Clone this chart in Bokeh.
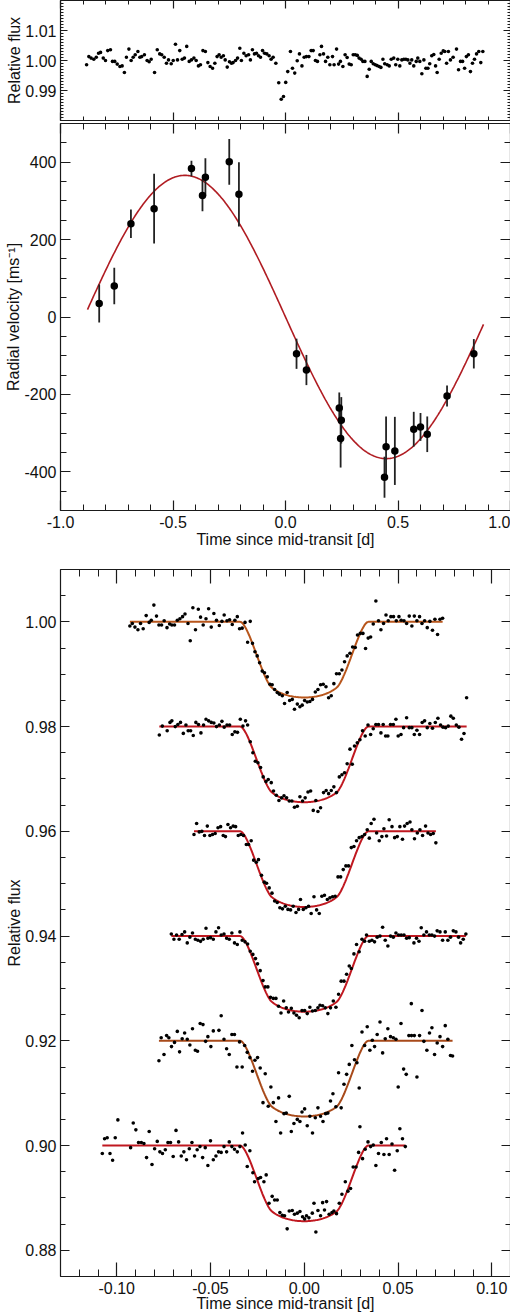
import numpy as np
from bokeh.plotting import figure
from bokeh.layouts import column
from bokeh.models import FixedTicker, LinearAxis, Range1d
from bokeh.embed import file_html
from bokeh.resources import INLINE

FONT = "Liberation Sans"
AX = "#1a1a1a"

# ---------------- top panel: photometry over the orbit ----------------
top_t = [-0.884,-0.874,-0.864,-0.852,-0.841,-0.831,-0.822,-0.810,-0.800,-0.790,
-0.778,-0.769,-0.759,-0.748,-0.736,-0.726,-0.716,-0.707,-0.696,-0.686,
-0.677,-0.668,-0.656,-0.647,-0.639,-0.627,-0.615,-0.606,-0.597,-0.582,
-0.570,-0.559,-0.550,-0.539,-0.529,-0.520,-0.508,-0.499,-0.489,-0.480,
-0.470,-0.459,-0.449,-0.439,-0.428,-0.418,-0.407,-0.397,-0.387,-0.378,
-0.367,-0.356,-0.345,-0.335,-0.324,-0.314,-0.304,-0.295,-0.286,-0.276,
-0.268,-0.259,-0.249,-0.240,-0.233,-0.222,-0.213,-0.203,-0.196,-0.185,
-0.175,-0.164,-0.156,-0.147,-0.138,-0.129,-0.120,-0.111,-0.102,-0.093,
-0.083,-0.073,-0.064,-0.055,-0.043,-0.030,-0.019,-0.009,0.001,0.010,
0.022,0.031,0.041,0.052,0.062,0.073,0.083,0.093,0.104,0.114,
0.123,0.133,0.142,0.153,0.160,0.169,0.178,0.188,0.197,0.209,
0.216,0.227,0.236,0.244,0.255,0.265,0.274,0.283,0.292,0.301,
0.310,0.319,0.327,0.336,0.344,0.353,0.363,0.372,0.381,0.390,
0.399,0.407,0.416,0.424,0.433,0.441,0.452,0.461,0.470,0.481,
0.490,0.499,0.508,0.517,0.526,0.535,0.544,0.553,0.561,0.570,
0.581,0.588,0.597,0.606,0.615,0.624,0.633,0.641,0.650,0.659,
0.667,0.674,0.683,0.692,0.701,0.708,0.716,0.724,0.733,0.745,
0.760,0.769,0.778,0.787,0.796,0.804,0.813,0.822,0.831,0.840,
0.849,0.859,0.868,0.877]
top_flux = [0.9986,1.0013,1.0008,1.0004,1.0011,1.0024,1.0027,1.0008,1.0000,1.0033,
1.0036,0.9997,0.9997,0.9988,0.9980,0.9982,0.9960,1.0011,1.0038,1.0000,
1.0011,1.0019,1.0030,1.0011,1.0013,1.0019,1.0000,0.9996,1.0004,0.9960,
1.0036,1.0022,1.0019,1.0011,0.9991,1.0002,0.9989,1.0000,1.0054,1.0002,
1.0033,1.0004,1.0008,1.0047,0.9997,1.0002,1.0008,1.0000,0.9982,0.9986,
1.0033,1.0030,0.9993,0.9980,0.9974,0.9991,1.0013,1.0019,1.0011,1.0016,
1.0002,0.9978,0.9996,0.9991,0.9993,1.0000,1.0008,1.0041,1.0000,1.0024,
1.0016,1.0019,1.0002,1.0036,1.0022,1.0024,1.0016,1.0011,1.0033,1.0024,
1.0022,1.0016,1.0004,1.0011,0.9991,0.9926,0.9871,0.9880,0.9927,0.9963,
1.0030,0.9974,0.9958,0.9999,1.0022,0.9982,1.0011,1.0013,1.0013,1.0033,
1.0033,1.0000,0.9997,1.0019,1.0047,1.0022,0.9997,1.0011,0.9986,1.0013,
0.9986,1.0038,0.9988,0.9997,0.9980,1.0019,1.0010,0.9988,0.9986,1.0019,
1.0019,1.0017,1.0008,1.0004,0.9997,0.9997,0.9947,0.9971,0.9997,0.9989,
0.9986,0.9983,0.9980,0.9977,1.0004,0.9989,0.9986,0.9982,1.0004,1.0008,
0.9986,1.0004,0.9982,1.0002,1.0004,1.0004,1.0002,0.9991,1.0002,0.9982,
0.9997,1.0008,0.9997,0.9956,1.0002,0.9974,0.9974,0.9989,1.0016,1.0020,
0.9982,0.9960,1.0004,1.0024,1.0032,1.0030,0.9991,1.0030,1.0002,1.0011,
1.0038,0.9969,0.9997,0.9997,0.9974,1.0013,1.0019,0.9963,0.9991,1.0004,
1.0022,1.0030,0.9993,1.0030]

# ---------------- middle panel: radial velocities ----------------
rv_t = [-0.828,-0.761,-0.687,-0.584,-0.418,-0.369,-0.356,-0.250,-0.207,
        0.049,0.093,0.239,0.248,0.245,0.440,0.447,0.486,0.570,0.600,0.630,0.718,0.837]
rv_v = [35,80,241,280,384,314,361,401,317,
        -95,-137,-235,-267,-314,-414,-335,-346,-290,-284,-303,-204,-95]
rv_err = [49,47,37,90,20,41,49,59,83,
          39,39,40,60,75,53,78,88,45,36,46,27,38]
RV_K = 366.0          # semi-amplitude of the fitted orbit [m/s]
RV_P = 1.79           # orbital period of the fitted orbit [d]
RV_SPAN = (-0.88, 0.88)

# ---------------- bottom panel: six transit light curves ----------------
lc1_t = [-0.0930,-0.0917,-0.0903,-0.0887,-0.0873,-0.0859,-0.0843,-0.0827,-0.0816,-0.0802,
-0.0788,-0.0775,-0.0761,-0.0747,-0.0732,-0.0718,-0.0706,-0.0692,-0.0677,-0.0663,
-0.0649,-0.0636,-0.0620,-0.0608,-0.0594,-0.0580,-0.0565,-0.0553,-0.0539,-0.0524,
-0.0510,-0.0496,-0.0482,-0.0468,-0.0453,-0.0439,-0.0427,-0.0412,-0.0398,-0.0384,
-0.0370,-0.0357,-0.0345,-0.0331,-0.0316,-0.0302,-0.0288,-0.0276,-0.0263,-0.0251,
-0.0238,-0.0224,-0.0212,-0.0197,-0.0183,-0.0171,-0.0158,-0.0144,-0.0132,-0.0117,
-0.0105,-0.0091,-0.0078,-0.0064,-0.0052,-0.0037,-0.0023,-0.0011,0.0002,0.0016,
0.0030,0.0044,0.0059,0.0073,0.0087,0.0101,0.0116,0.0130,0.0144,0.0158,
0.0172,0.0187,0.0201,0.0215,0.0229,0.0244,0.0258,0.0272,0.0284,0.0299,
0.0313,0.0327,0.0341,0.0354,0.0368,0.0382,0.0396,0.0409,0.0423,0.0436,
0.0448,0.0462,0.0476,0.0491,0.0505,0.0517,0.0532,0.0546,0.0560,0.0574,
0.0587,0.0601,0.0615,0.0628,0.0642,0.0656,0.0670,0.0684,0.0697,0.0711,
0.0724,0.0738]
lc1_f = [0.9992,0.9997,0.9990,0.9985,0.9997,0.9987,1.0012,0.9999,1.0003,1.0032,
1.0011,0.9994,0.9994,1.0002,0.9989,0.9996,0.9994,0.9994,1.0003,1.0006,
1.0010,1.0015,0.9997,0.9964,1.0027,0.9985,1.0024,1.0009,0.9994,1.0006,
1.0025,0.9990,1.0016,1.0003,0.9993,1.0001,1.0013,1.0002,1.0004,0.9995,
1.0003,1.0010,0.9987,0.9988,0.9999,0.9961,1.0001,0.9959,0.9943,0.9935,
0.9922,0.9906,0.9903,0.9895,0.9881,0.9880,0.9871,0.9865,0.9862,0.9859,
0.9844,0.9865,0.9850,0.9852,0.9833,0.9843,0.9838,0.9841,0.9850,0.9847,
0.9848,0.9852,0.9866,0.9871,0.9880,0.9881,0.9876,0.9855,0.9859,0.9882,
0.9901,0.9901,0.9908,0.9924,0.9935,0.9940,0.9952,0.9951,0.9975,0.9978,
0.9978,0.9949,0.9969,0.9971,0.9996,1.0040,1.0002,0.9985,0.9997,1.0013,
1.0002,1.0010,1.0010,1.0002,1.0010,1.0003,1.0002,0.9997,1.0011,0.9992,
1.0011,1.0002,1.0010,0.9997,1.0002,0.9989,1.0001,0.9984,1.0005,0.9976,
1.0005,1.0007]

lc2_t = [-0.0773,-0.0757,-0.0731,-0.0716,-0.0706,-0.0688,-0.0674,-0.0660,-0.0645,-0.0631,
-0.0619,-0.0606,-0.0592,-0.0578,-0.0564,-0.0551,-0.0537,-0.0524,-0.0510,-0.0496,
-0.0482,-0.0468,-0.0453,-0.0439,-0.0427,-0.0412,-0.0398,-0.0384,-0.0370,-0.0356,
-0.0341,-0.0327,-0.0313,-0.0302,-0.0288,-0.0274,-0.0261,-0.0247,-0.0233,-0.0219,
-0.0204,-0.0192,-0.0176,-0.0164,-0.0149,-0.0135,-0.0121,-0.0108,-0.0094,-0.0080,
-0.0066,-0.0052,-0.0037,-0.0023,-0.0009,0.0005,0.0020,0.0034,0.0048,0.0062,
0.0073,0.0087,0.0103,0.0117,0.0130,0.0144,0.0158,0.0172,0.0187,0.0201,
0.0215,0.0229,0.0244,0.0256,0.0268,0.0283,0.0297,0.0311,0.0325,0.0340,
0.0354,0.0368,0.0382,0.0396,0.0409,0.0421,0.0434,0.0446,0.0460,0.0475,
0.0489,0.0501,0.0516,0.0530,0.0546,0.0560,0.0574,0.0587,0.0601,0.0615,
0.0629,0.0642,0.0656,0.0670,0.0684,0.0699,0.0713,0.0727,0.0740,0.0754,
0.0768,0.0782,0.0795,0.0811,0.0825,0.0839,0.0852,0.0866]
lc2_f = [0.9784,0.9801,0.9792,0.9808,0.9811,0.9800,0.9804,0.9808,0.9787,0.9803,
0.9792,0.9792,0.9783,0.9808,0.9804,0.9788,0.9803,0.9814,0.9811,0.9808,
0.9807,0.9800,0.9803,0.9810,0.9799,0.9803,0.9803,0.9785,0.9790,0.9789,
0.9814,0.9801,0.9811,0.9803,0.9771,0.9750,0.9734,0.9731,0.9722,0.9704,
0.9695,0.9699,0.9693,0.9677,0.9669,0.9659,0.9664,0.9668,0.9664,0.9658,
0.9658,0.9646,0.9648,0.9666,0.9658,0.9664,0.9675,0.9677,0.9640,0.9659,
0.9638,0.9645,0.9674,0.9678,0.9672,0.9678,0.9685,0.9674,0.9704,0.9708,
0.9712,0.9729,0.9757,0.9728,0.9763,0.9769,0.9775,0.9792,0.9782,0.9803,
0.9785,0.9796,0.9804,0.9804,0.9788,0.9804,0.9782,0.9782,0.9804,0.9804,
0.9814,0.9782,0.9785,0.9798,0.9817,0.9798,0.9798,0.9785,0.9793,0.9785,
0.9808,0.9811,0.9798,0.9806,0.9797,0.9808,0.9816,0.9803,0.9799,0.9798,
0.9801,0.9820,0.9816,0.9803,0.9799,0.9776,0.9787,0.9855]

lc3_t = [-0.0588,-0.0574,-0.0560,-0.0546,-0.0532,-0.0517,-0.0503,-0.0489,-0.0475,-0.0460,
-0.0446,-0.0432,-0.0420,-0.0407,-0.0393,-0.0379,-0.0366,-0.0352,-0.0338,-0.0324,
-0.0309,-0.0297,-0.0283,-0.0270,-0.0256,-0.0244,-0.0228,-0.0213,-0.0201,-0.0187,
-0.0172,-0.0158,-0.0144,-0.0130,-0.0116,-0.0101,-0.0087,-0.0073,-0.0059,-0.0044,
-0.0030,-0.0020,-0.0005,0.0009,0.0023,0.0037,0.0052,0.0066,0.0080,0.0094,
0.0108,0.0123,0.0137,0.0151,0.0165,0.0180,0.0194,0.0208,0.0222,0.0236,
0.0251,0.0265,0.0279,0.0293,0.0308,0.0322,0.0336,0.0347,0.0357,0.0372,
0.0386,0.0400,0.0414,0.0425,0.0439,0.0453,0.0468,0.0482,0.0496,0.0510,
0.0524,0.0535,0.0549,0.0564,0.0574,0.0588,0.0603,0.0617,0.0631,0.0647,
0.0660,0.0674,0.0688,0.0702]
lc3_f = [0.9594,0.9615,0.9599,0.9600,0.9592,0.9610,0.9592,0.9594,0.9596,0.9607,
0.9609,0.9592,0.9590,0.9613,0.9607,0.9610,0.9609,0.9592,0.9594,0.9592,
0.9575,0.9575,0.9582,0.9545,0.9541,0.9546,0.9516,0.9503,0.9501,0.9492,
0.9482,0.9467,0.9464,0.9454,0.9452,0.9457,0.9451,0.9450,0.9457,0.9445,
0.9451,0.9470,0.9451,0.9454,0.9457,0.9443,0.9475,0.9450,0.9443,0.9476,
0.9478,0.9470,0.9473,0.9475,0.9476,0.9513,0.9513,0.9527,0.9534,0.9534,
0.9569,0.9571,0.9582,0.9588,0.9590,0.9594,0.9603,0.9587,0.9615,0.9623,
0.9597,0.9582,0.9590,0.9605,0.9591,0.9622,0.9609,0.9588,0.9590,0.9609,
0.9585,0.9610,0.9615,0.9618,0.9603,0.9586,0.9597,0.9603,0.9592,0.9610,
0.9597,0.9594,0.9596,0.9578]

lc4_t = [-0.0709,-0.0695,-0.0681,-0.0667,-0.0652,-0.0638,-0.0624,-0.0610,-0.0596,-0.0581,
-0.0567,-0.0553,-0.0539,-0.0524,-0.0514,-0.0500,-0.0485,-0.0471,-0.0457,-0.0443,
-0.0428,-0.0414,-0.0400,-0.0386,-0.0372,-0.0357,-0.0343,-0.0331,-0.0316,-0.0302,
-0.0288,-0.0274,-0.0260,-0.0249,-0.0235,-0.0220,-0.0208,-0.0194,-0.0180,-0.0165,
-0.0151,-0.0137,-0.0124,-0.0110,-0.0096,-0.0084,-0.0069,-0.0055,-0.0041,-0.0027,
-0.0012,0.0002,0.0016,0.0030,0.0044,0.0059,0.0073,0.0084,0.0098,0.0112,
0.0126,0.0140,0.0155,0.0169,0.0183,0.0197,0.0212,0.0226,0.0240,0.0251,
0.0265,0.0279,0.0293,0.0308,0.0322,0.0332,0.0347,0.0361,0.0375,0.0389,
0.0404,0.0418,0.0432,0.0446,0.0460,0.0475,0.0489,0.0503,0.0517,0.0532,
0.0546,0.0560,0.0571,0.0585,0.0599,0.0612,0.0624,0.0628,0.0638,0.0652,
0.0667,0.0681,0.0695,0.0709,0.0724,0.0738,0.0752,0.0766,0.0780,0.0795,
0.0809,0.0823,0.0834,0.0848,0.0862]
lc4_f = [0.9404,0.9394,0.9402,0.9394,0.9403,0.9408,0.9387,0.9398,0.9406,0.9394,
0.9392,0.9390,0.9394,0.9415,0.9396,0.9397,0.9394,0.9408,0.9416,0.9402,
0.9404,0.9396,0.9394,0.9406,0.9387,0.9384,0.9408,0.9392,0.9389,0.9385,
0.9371,0.9365,0.9357,0.9347,0.9334,0.9315,0.9303,0.9303,0.9283,0.9281,
0.9281,0.9266,0.9253,0.9276,0.9263,0.9255,0.9262,0.9253,0.9249,0.9244,
0.9258,0.9258,0.9252,0.9264,0.9257,0.9258,0.9263,0.9268,0.9267,0.9263,
0.9252,0.9263,0.9276,0.9264,0.9289,0.9314,0.9314,0.9327,0.9343,0.9338,
0.9366,0.9384,0.9370,0.9394,0.9390,0.9402,0.9390,0.9392,0.9389,0.9398,
0.9400,0.9417,0.9392,0.9381,0.9400,0.9398,0.9406,0.9402,0.9402,0.9402,
0.9396,0.9397,0.9271,0.9387,0.9396,0.9390,0.9416,0.9258,0.9402,0.9408,
0.9402,0.9402,0.9400,0.9410,0.9408,0.9392,0.9408,0.9392,0.9398,0.9410,
0.9408,0.9398,0.9387,0.9394,0.9404]

lc5_t = [-0.0775,-0.0763,-0.0748,-0.0734,-0.0722,-0.0708,-0.0692,-0.0677,-0.0665,-0.0651,
-0.0638,-0.0624,-0.0610,-0.0596,-0.0581,-0.0569,-0.0555,-0.0540,-0.0526,-0.0514,
-0.0498,-0.0485,-0.0455,-0.0443,-0.0428,-0.0414,-0.0400,-0.0386,-0.0372,-0.0359,
-0.0345,-0.0331,-0.0318,-0.0304,-0.0290,-0.0276,-0.0263,-0.0249,-0.0235,-0.0220,
-0.0208,-0.0192,-0.0178,-0.0165,-0.0151,-0.0137,-0.0126,-0.0108,-0.0096,-0.0080,
-0.0069,-0.0055,-0.0037,-0.0023,-0.0012,0.0002,0.0016,0.0030,0.0044,0.0059,
0.0073,0.0087,0.0100,0.0114,0.0126,0.0140,0.0153,0.0169,0.0183,0.0197,
0.0212,0.0226,0.0240,0.0254,0.0268,0.0281,0.0293,0.0308,0.0322,0.0336,
0.0350,0.0363,0.0375,0.0389,0.0404,0.0418,0.0432,0.0446,0.0460,0.0475,
0.0489,0.0501,0.0516,0.0530,0.0544,0.0558,0.0572,0.0587,0.0601,0.0615,
0.0638,0.0654,0.0668,0.0681,0.0695,0.0709,0.0724,0.0738,0.0752,0.0766,
0.0780,0.0791]
lc5_f = [0.9162,0.9206,0.9174,0.9210,0.9206,0.9189,0.9197,0.9218,0.9179,0.9204,
0.9215,0.9203,0.9192,0.9223,0.9182,0.9180,0.9233,0.9231,0.9199,0.9208,
0.9189,0.9219,0.9220,0.9248,0.9203,0.9185,0.9174,0.9212,0.9212,0.9150,
0.9198,0.9150,0.9191,0.9178,0.9168,0.9142,0.9163,0.9168,0.9148,0.9082,
0.9137,0.9075,0.9112,0.9082,0.9046,0.9091,0.9024,0.9061,0.9062,0.9094,
0.9027,0.9042,0.9050,0.9046,0.9064,0.9070,0.9038,0.9056,0.9024,0.9053,
0.9072,0.9056,0.9046,0.9061,0.9062,0.9085,0.9099,0.9074,0.9139,0.9072,
0.9117,0.9136,0.9155,0.9191,0.9164,0.9158,0.9110,0.9217,0.9191,0.9227,
0.9182,0.9201,0.9189,0.9212,0.9236,0.9177,0.9204,0.9223,0.9208,0.9206,
0.9203,0.9112,0.9233,0.9146,0.9136,0.9210,0.9210,0.9210,0.9131,0.9210,
0.9199,0.9182,0.9215,0.9225,0.9174,0.9196,0.9208,0.9189,0.9229,0.9203,
0.9172,0.9171]

lc6_t = [-0.1077,-0.1065,-0.1051,-0.1036,-0.1022,-0.1008,-0.0994,-0.0926,-0.0912,-0.0898,
-0.0884,-0.0869,-0.0855,-0.0841,-0.0827,-0.0812,-0.0798,-0.0784,-0.0770,-0.0756,
-0.0741,-0.0727,-0.0713,-0.0699,-0.0684,-0.0670,-0.0656,-0.0642,-0.0628,-0.0613,
-0.0599,-0.0585,-0.0571,-0.0556,-0.0542,-0.0528,-0.0514,-0.0500,-0.0485,-0.0471,
-0.0457,-0.0443,-0.0428,-0.0414,-0.0400,-0.0386,-0.0372,-0.0357,-0.0343,-0.0329,
-0.0315,-0.0304,-0.0290,-0.0274,-0.0265,-0.0245,-0.0233,-0.0215,-0.0203,-0.0188,
-0.0171,-0.0158,-0.0144,-0.0130,-0.0117,-0.0105,-0.0091,-0.0080,-0.0064,-0.0052,
-0.0037,-0.0023,-0.0009,0.0002,0.0012,0.0025,0.0043,0.0052,0.0062,0.0073,
0.0087,0.0098,0.0108,0.0119,0.0133,0.0148,0.0158,0.0172,0.0187,0.0201,
0.0219,0.0233,0.0247,0.0261,0.0276,0.0290,0.0297,0.0311,0.0325,0.0340,
0.0354,0.0368,0.0382,0.0396,0.0411,0.0425,0.0439,0.0453,0.0468,0.0482,
0.0496,0.0510,0.0524,0.0539]
lc6_f = [0.8985,0.9013,0.9015,0.8985,0.8972,0.9015,0.9049,0.8996,0.9043,0.9030,
0.9006,0.9006,0.9004,0.8977,0.9027,0.8964,0.8994,0.9008,0.8988,0.8985,
0.8992,0.9006,0.9006,0.8979,0.9029,0.9007,0.8980,0.8988,0.8973,0.8994,
0.9006,0.8980,0.8992,0.8998,0.8977,0.8996,0.8962,0.9009,0.8973,0.8980,
0.8988,0.8987,0.8998,0.8988,0.9007,0.8998,0.8993,0.8988,0.8998,0.9024,
0.9001,0.8960,0.8990,0.8948,0.8931,0.8937,0.8939,0.8931,0.8944,0.8890,
0.8903,0.8896,0.8896,0.8872,0.8867,0.8866,0.8841,0.8875,0.8876,0.8869,
0.8871,0.8874,0.8864,0.8860,0.8866,0.8862,0.8871,0.8890,0.8835,0.8876,
0.8866,0.8891,0.8877,0.8893,0.8869,0.8872,0.8875,0.8870,0.8890,0.8907,
0.8931,0.8913,0.8918,0.8959,0.8959,0.8987,0.9036,0.8975,0.8993,0.9007,
0.8998,0.9001,0.8962,0.8985,0.9006,0.8983,0.9013,0.8983,0.9003,0.8953,
0.8990,0.9032,0.9013,0.8998]

lc_times = [lc1_t, lc2_t, lc3_t, lc4_t, lc5_t, lc6_t]
lc_fluxes = [lc1_f, lc2_f, lc3_f, lc4_f, lc5_f, lc6_f]
lc_offsets = [1.00, 0.98, 0.96, 0.94, 0.92, 0.90]
lc_model_colors = ["#b8561c", "#c01820", "#c01820", "#c01820", "#a84a1a", "#c01820"]

# fitted transit model parameters
TR_K = 0.121      # Rp/Rs
TR_B = 0.77       # impact parameter
TR_T14 = 0.068    # total duration [d]
TR_U1, TR_U2 = 0.40, 0.25   # quadratic limb darkening

# axis ticks and labels
rv_x_ticks = [-1.0, -0.5, 0.0, 0.5, 1.0]
rv_x_labels = ["-1.0", "-0.5", "0.0", "0.5", "1.0"]
rv_y_ticks = [-400, -200, 0, 200, 400]
rv_y_labels = ["-400", "-200", "0", "200", "400"]
top_y_ticks = [0.99, 1.00, 1.01]
top_y_labels = ["0.99", "1.00", "1.01"]
lc_x_ticks = [-0.10, -0.05, 0.00, 0.05, 0.10]
lc_x_labels = ["-0.10", "-0.05", "0.00", "0.05", "0.10"]
lc_y_ticks = [0.88, 0.90, 0.92, 0.94, 0.96, 0.98, 1.00]
lc_y_labels = ["0.88", "0.90", "0.92", "0.94", "0.96", "0.98", "1.00"]


def transit_model(t):
    t = np.asarray(t)
    half = np.sqrt((1 + TR_K) ** 2 - TR_B ** 2)
    xs = t / (TR_T14 / 2.0) * half
    g = np.linspace(-TR_K, TR_K, 121)
    gx, gy = np.meshgrid(g, g)
    m = gx ** 2 + gy ** 2 <= TR_K ** 2
    gx, gy = gx[m], gy[m]
    dA = (g[1] - g[0]) ** 2
    norm = np.pi * (1 - TR_U1 / 3 - TR_U2 / 6)
    out = []
    for xi in xs:
        r2 = (xi + gx) ** 2 + (TR_B + gy) ** 2
        inside = r2 < 1
        mu = np.sqrt(1 - r2[inside])
        I = 1 - TR_U1 * (1 - mu) - TR_U2 * (1 - mu) ** 2
        out.append(1 - I.sum() * dA / norm)
    return np.array(out)


def make_fig(frame_h, xr, yr, top, bottom):
    p = figure(frame_width=450, frame_height=frame_h,
               x_range=Range1d(*xr), y_range=Range1d(*yr),
               output_backend="svg", toolbar_location=None,
               min_border_left=60, min_border_right=0,
               min_border_top=top, min_border_bottom=bottom)
    p.grid.visible = False
    p.outline_line_color = None
    p.background_fill_color = "white"
    p.border_fill_color = "white"
    return p


def style_axis(ax, ticks, minor, labels, maj, mnr, show, title_standoff=0):
    ax.ticker = FixedTicker(ticks=ticks, minor_ticks=minor)
    ax.axis_line_color = AX
    ax.axis_line_width = 1.2
    ax.major_tick_in = maj
    ax.major_tick_out = 0
    ax.minor_tick_in = mnr
    ax.minor_tick_out = 0
    ax.major_tick_line_color = AX
    ax.minor_tick_line_color = AX
    ax.major_tick_line_width = 1.2
    ax.minor_tick_line_width = 1.0
    if show:
        ax.major_label_overrides = {t: s for t, s in zip(ticks, labels)}
        ax.major_label_text_font = FONT
        ax.major_label_text_font_size = "16px"
        ax.major_label_text_color = "#111111"
        ax.major_label_standoff = 4 if show == "y" else 5
    else:
        # mirrored axis: ticks only, no labels drawn and no space taken
        ax.major_label_text_color = None
        ax.major_label_standoff = 0
    ax.axis_label_text_font = FONT
    ax.axis_label_text_font_style = "normal"
    ax.axis_label_text_font_size = "16px"
    ax.axis_label_text_color = "#111111"
    ax.axis_label_standoff = title_standoff


def frame_axes(p, xt, xm, xl, yt, ym, yl, xmaj, xmin_, ymaj, ymin_, show_x, xlab, ylab, xstand):
    style_axis(p.xaxis[0], xt, xm, xl, xmaj, xmin_, "x" if show_x else False, xstand)
    style_axis(p.yaxis[0], yt, ym, yl, ymaj, ymin_, "y", -1)
    if xlab:
        p.xaxis[0].axis_label = xlab
    p.yaxis[0].axis_label = ylab
    above = LinearAxis()
    style_axis(above, xt, xm, xl, xmaj, xmin_, False)
    p.add_layout(above, "above")
    right = LinearAxis()
    style_axis(right, yt, ym, yl, ymaj, ymin_, False)
    p.add_layout(right, "right")


rv_minor_x = [round(v, 2) for v in np.arange(-1.0, 1.0001, 0.1)]

# ---- figure 1: frame y 0..120
p1 = make_fig(120, (-1, 1), (0.98, 1.02), 0, 1)
frame_axes(p1, rv_x_ticks, rv_minor_x, rv_x_labels,
           top_y_ticks, [round(v, 4) for v in np.arange(0.98, 1.0201, 0.001)], top_y_labels,
           8, 4, 7, 3, False, None, "Relative flux", 0)
p1.scatter(top_t, top_flux, size=3.6, color="black", line_color=None)

# ---- figure 2: frame y 123..510
p2 = make_fig(387, (-1, 1), (-500, 500), 2, 46)
frame_axes(p2, rv_x_ticks, rv_minor_x, rv_x_labels,
           rv_y_ticks, list(range(-500, 501, 50)), rv_y_labels,
           10, 6, 10, 6, True, "Time since mid-transit [d]", "Radial velocity [ms\u207b\u00b9]", 0)
mt = np.linspace(RV_SPAN[0], RV_SPAN[1], 400)
p2.line(mt, -RV_K * np.sin(2 * np.pi * mt / RV_P), line_color="#b01c22", line_width=1.6)
v = np.array(rv_v, dtype=float)
e = np.array(rv_err, dtype=float)
p2.segment(x0=rv_t, y0=v - e, x1=rv_t, y1=v + e, line_color="#222222", line_width=1.8)
p2.scatter(rv_t, rv_v, size=7.5, color="black", line_color=None)

# ---- figure 3: frame y 569..1276
p3 = make_fig(707, (-0.13, 0.11), (0.875, 1.01), 13, 38)
frame_axes(p3, lc_x_ticks, [round(v, 3) for v in np.arange(-0.13, 0.1101, 0.01)], lc_x_labels,
           lc_y_ticks, [round(v, 4) for v in np.arange(0.875, 1.0101, 0.005)], lc_y_labels,
           14, 7, 9, 5, True, "Time since mid-transit [d]", "Relative flux", -2)
for tt, ff, off, col in zip(lc_times, lc_fluxes, lc_offsets, lc_model_colors):
    mt = np.linspace(min(tt), max(tt), 300)
    p3.line(mt, off + transit_model(mt) - 1.0, line_color=col, line_width=2)
    p3.scatter(tt, ff, size=3.6, color="black", line_color=None)

layout = column(p1, p2, p3, spacing=0)
open("out.html", "w").write(file_html(layout, INLINE))
